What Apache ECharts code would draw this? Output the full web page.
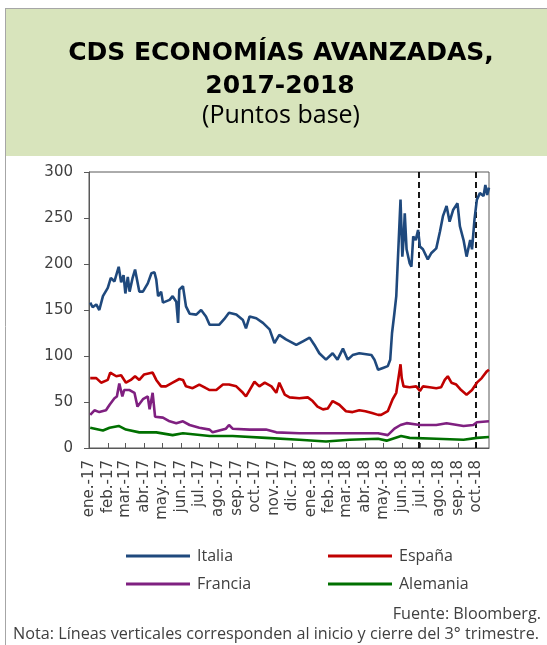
<!DOCTYPE html>
<html>
<head>
<meta charset="utf-8">
<script src="https://cdn.jsdelivr.net/npm/echarts@6/dist/echarts.min.js"></script>
<style>
html,body{margin:0;padding:0;background:#fff;}
#c{width:547px;height:645px;}
</style>
</head>
<body>
<div id="c"></div>
<script>
const monthNames = ['ene.','feb.','mar.','abr.','may.','jun.','jul.','ago.','sep.','oct.','nov.','dic.'];
const yTicks = [0, 50, 100, 150, 200, 250, 300];
const seriesNames = ['Italia', 'España', 'Francia', 'Alemania'];
const quarterLines = ['2018-06-28', '2018-09-30'];

const italia = [
['2017-01-02',158],['2017-01-06',153],['2017-01-12',156],['2017-01-17',150],['2017-01-23',165],['2017-01-31',174],['2017-02-05',185],['2017-02-11',181],['2017-02-18',197],['2017-02-22',180],['2017-02-26',188],['2017-03-01',168],['2017-03-05',186],['2017-03-08',170],['2017-03-13',185],['2017-03-17',194],['2017-03-24',170],['2017-03-30',170],['2017-04-07',179],['2017-04-13',190],['2017-04-18',191],['2017-04-21',183],['2017-04-24',165],['2017-04-29',170],['2017-05-02',158],['2017-05-13',161],['2017-05-18',165],['2017-05-24',159],['2017-05-27',136],['2017-05-29',172],['2017-06-04',176],['2017-06-09',154],['2017-06-15',146],['2017-06-26',145],['2017-07-04',150],['2017-07-12',143],['2017-07-18',134],['2017-08-03',134],['2017-08-11',140],['2017-08-19',147],['2017-08-31',145],['2017-09-11',139],['2017-09-16',130],['2017-09-22',143],['2017-10-03',141],['2017-10-14',136],['2017-10-25',129],['2017-11-02',114],['2017-11-10',123],['2017-11-21',118],['2017-12-08',112],['2017-12-19',116],['2017-12-30',120],['2018-01-07',112],['2018-01-15',103],['2018-01-26',96],['2018-02-06',103],['2018-02-14',96],['2018-02-23',108],['2018-03-03',96],['2018-03-11',101],['2018-03-22',103],['2018-04-11',101],['2018-04-16',96],['2018-04-22',85],['2018-04-30',87],['2018-05-08',89],['2018-05-12',96],['2018-05-15',125],['2018-05-19',147],['2018-05-22',165],['2018-05-25',167],['2018-05-29',270],['2018-06-01',208],['2018-06-03',226],['2018-06-05',255],['2018-06-08',216],['2018-06-13',201],['2018-06-16',197],['2018-06-19',230],['2018-06-23',226],['2018-06-27',237],['2018-06-30',219],['2018-07-05',216],['2018-07-13',205],['2018-07-19',212],['2018-07-27',217],['2018-08-02',235],['2018-08-07',252],['2018-08-13',263],['2018-08-18',246],['2018-08-24',259],['2018-08-31',266],['2018-09-04',241],['2018-09-10',226],['2018-09-15',208],['2018-09-21',226],['2018-09-24',216],['2018-09-28',248],['2018-10-02',270],['2018-10-07',277],['2018-10-13',274],['2018-10-16',286],['2018-10-19',275],['2018-10-22',283]
];
const espana = [
['2017-01-02',76],['2017-01-12',76],['2017-01-20',71],['2017-01-31',74],['2017-02-04',82],['2017-02-14',78],['2017-02-22',79],['2017-03-02',71],['2017-03-10',74],['2017-03-17',78],['2017-03-24',74],['2017-04-01',80],['2017-04-15',82],['2017-04-21',74],['2017-04-29',67],['2017-05-07',67],['2017-05-18',71],['2017-05-29',75],['2017-06-04',74],['2017-06-09',67],['2017-06-20',65],['2017-07-01',69],['2017-07-12',65],['2017-07-18',63],['2017-07-29',63],['2017-08-09',69],['2017-08-19',69],['2017-08-31',67],['2017-09-11',60],['2017-09-16',56],['2017-09-22',63],['2017-09-30',72],['2017-10-08',67],['2017-10-17',71],['2017-10-28',67],['2017-11-05',60],['2017-11-10',71],['2017-11-19',58],['2017-11-27',55],['2017-12-13',54],['2017-12-27',55],['2018-01-04',51],['2018-01-12',45],['2018-01-21',42],['2018-01-29',43],['2018-02-06',51],['2018-02-17',47],['2018-02-28',40],['2018-03-11',39],['2018-03-22',41],['2018-04-01',40],['2018-04-12',38],['2018-04-22',36],['2018-04-27',36],['2018-05-08',40],['2018-05-16',53],['2018-05-22',60],['2018-05-29',91],['2018-05-31',76],['2018-06-03',67],['2018-06-13',66],['2018-06-24',67],['2018-06-30',62],['2018-07-05',67],['2018-07-16',66],['2018-07-27',65],['2018-08-04',66],['2018-08-10',74],['2018-08-15',78],['2018-08-21',71],['2018-08-29',69],['2018-09-06',63],['2018-09-15',58],['2018-09-24',63],['2018-10-02',71],['2018-10-10',76],['2018-10-18',83],['2018-10-22',85]
];
const francia = [
['2017-01-02',36],['2017-01-09',41],['2017-01-17',39],['2017-01-28',41],['2017-02-03',47],['2017-02-11',54],['2017-02-15',56],['2017-02-19',70],['2017-02-24',56],['2017-02-27',63],['2017-03-08',63],['2017-03-16',60],['2017-03-21',45],['2017-03-30',53],['2017-04-07',56],['2017-04-10',42],['2017-04-15',60],['2017-04-19',34],['2017-05-02',33],['2017-05-13',29],['2017-05-24',27],['2017-06-04',29],['2017-06-15',25],['2017-07-01',22],['2017-07-18',20],['2017-07-23',17],['2017-08-14',21],['2017-08-19',25],['2017-08-25',21],['2017-09-22',20],['2017-10-19',20],['2017-11-05',17],['2017-12-13',16],['2018-01-26',16],['2018-03-06',16],['2018-04-22',16],['2018-05-08',14],['2018-05-19',21],['2018-05-29',25],['2018-06-08',27],['2018-06-30',25],['2018-07-27',25],['2018-08-13',27],['2018-09-10',24],['2018-09-26',25],['2018-10-02',28],['2018-10-22',29]
];
const alemania = [
['2017-01-02',22],['2017-01-23',19],['2017-02-03',22],['2017-02-18',24],['2017-03-02',20],['2017-03-24',17],['2017-04-21',17],['2017-05-18',14],['2017-06-04',16],['2017-07-18',13],['2017-08-25',13],['2017-10-19',11],['2017-12-13',9],['2018-01-26',7],['2018-03-06',9],['2018-04-22',10],['2018-05-06',8],['2018-05-30',13],['2018-06-13',11],['2018-07-27',10],['2018-09-10',9],['2018-10-02',11],['2018-10-22',12]
];

const colors = ['#1F497D', '#C00000', '#7F2080', '#007000'];
const dataSets = [italia, espana, francia, alemania];
const axisFont = 'DejaVu Sans';
const textFont = 'Open Sans';

const chart = echarts.init(document.getElementById('c'), null, {renderer: 'canvas'});
const DAY = 86400000;

const series = seriesNames.map((name, i) => ({
  name: name,
  type: 'line',
  data: dataSets[i],
  showSymbol: false,
  symbol: 'none',
  lineStyle: {color: colors[i], width: 2.6},
  itemStyle: {color: colors[i]},
  z: 10 - i,
  animation: false
}));
series[0].markLine = {
  silent: true,
  symbol: 'none',
  label: {show: false},
  lineStyle: {color: '#000', type: [6, 4], width: 1.8},
  data: quarterLines.map(d => ({xAxis: d}))
};

const legendText = {fontFamily: textFont, fontSize: 16, color: '#404040', lineHeight: 18, padding: [0, 0, 0, 2]};

chart.setOption({
  animation: false,
  backgroundColor: '#fff',
  grid: {left: 89, top: 172, right: 58, bottom: 197, show: true, borderColor: '#595959', borderWidth: 1, backgroundColor: 'transparent'},
  xAxis: {
    type: 'time',
    min: '2016-12-31',
    max: '2018-10-22',
    splitNumber: 22,
    minInterval: 28 * DAY,
    maxInterval: 31 * DAY,
    axisLine: {show: true, lineStyle: {color: '#595959', width: 1}},
    axisTick: {show: true, inside: true, length: 5, lineStyle: {color: '#595959'}},
    splitLine: {show: false},
    axisLabel: {
      rotate: 90,
      margin: 12,
      hideOverlap: false,
      fontFamily: axisFont,
      fontSize: 15,
      color: '#404040',
      formatter: function (v) {
        const d = new Date(v);
        return monthNames[d.getMonth()] + '-' + String(d.getFullYear()).slice(2);
      }
    }
  },
  yAxis: {
    type: 'value',
    min: yTicks[0],
    max: yTicks[yTicks.length - 1],
    interval: yTicks[1] - yTicks[0],
    axisLine: {show: true, lineStyle: {color: '#595959', width: 1}},
    axisTick: {show: true, inside: false, length: 5, lineStyle: {color: '#595959'}},
    splitLine: {show: false},
    axisLabel: {margin: 16, fontFamily: axisFont, fontSize: 15, color: '#404040'}
  },
  legend: [
    {
      data: [seriesNames[0], seriesNames[2]],
      orient: 'vertical', left: 121, top: 542,
      icon: 'rect', itemWidth: 64, itemHeight: 3, itemGap: 10,
      textStyle: legendText
    },
    {
      data: [seriesNames[1], seriesNames[3]],
      orient: 'vertical', left: 323, top: 542,
      icon: 'rect', itemWidth: 64, itemHeight: 3, itemGap: 10,
      textStyle: legendText
    }
  ],
  graphic: [
    {type: 'rect', left: 6, top: 9, shape: {x: 0, y: 0, width: 541, height: 147}, style: {fill: '#D8E4BC'}, z: -10},
    {type: 'line', shape: {x1: 5, y1: 8.5, x2: 547, y2: 8.5}, style: {stroke: '#A6A6A6', lineWidth: 1}, z: -5},
    {type: 'line', shape: {x1: 5.5, y1: 8, x2: 5.5, y2: 645}, style: {stroke: '#A6A6A6', lineWidth: 1}, z: -5},
    {type: 'text', x: 281, y: 53, style: {text: 'CDS ECONOMÍAS AVANZADAS,', fontFamily: 'DejaVu Sans', fontWeight: 'bold', fontSize: 25, fill: '#000', textAlign: 'center', textVerticalAlign: 'middle'}},
    {type: 'text', x: 280, y: 86.5, style: {text: '2017-2018', fontFamily: 'DejaVu Sans', fontWeight: 'bold', fontSize: 25, fill: '#000', textAlign: 'center', textVerticalAlign: 'middle'}},
    {type: 'text', x: 281, y: 116, style: {text: '(Puntos base)', fontFamily: textFont, fontSize: 25, fill: '#000', textAlign: 'center', textVerticalAlign: 'middle'}},
    {type: 'text', x: 541, y: 614.5, style: {text: 'Fuente: Bloomberg.', fontFamily: textFont, fontSize: 16.2, fill: '#404040', textAlign: 'right', textVerticalAlign: 'middle'}},
    {type: 'text', x: 539, y: 634, style: {text: 'Nota: Líneas verticales corresponden al inicio y cierre del 3° trimestre.', fontFamily: textFont, fontSize: 16.2, fill: '#404040', textAlign: 'right', textVerticalAlign: 'middle'}}
  ],
  series: series
});
</script>
</body>
</html>
